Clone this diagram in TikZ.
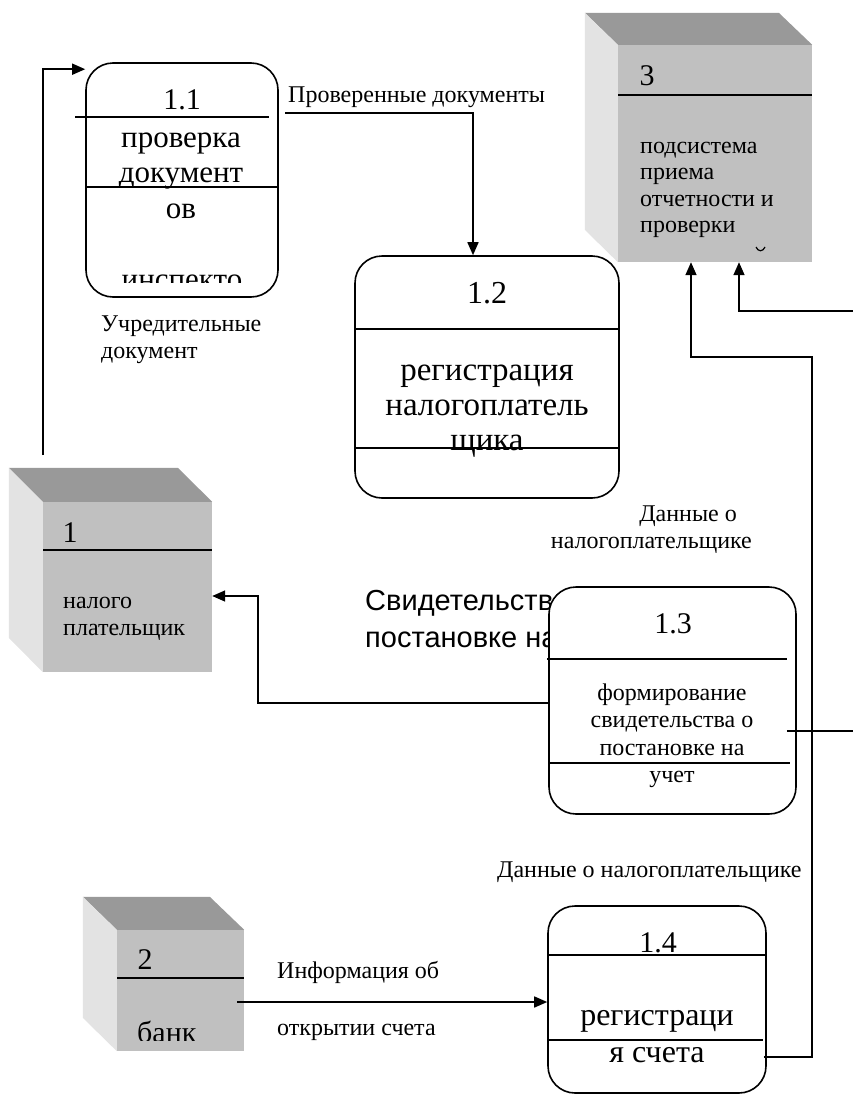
\documentclass[tikz,border=0pt]{standalone}
\usepackage{fontspec}
\setmainfont{Liberation Serif}
\newfontfamily\arialfont{Liberation Sans}
\usetikzlibrary{arrows.meta}
\definecolor{frontgray}{HTML}{C0C0C0}
\definecolor{topgray}{HTML}{999999}
\definecolor{sidegray}{HTML}{E3E3E3}

\begin{document}
\begin{tikzpicture}[x=1pt, y=-1pt]
	\tikzset{proc/.style = {draw, line width=1.6pt, rounded corners=27pt, fill=white, inner sep=0pt}}
	\tikzset{front/.style = {fill=frontgray, inner sep=0pt}}
	\tikzset{edge/.style = {line width=1.6pt, -{Triangle[length=13pt, width=11pt]}}}
	\tikzset{flow/.style = {line width=1.6pt}}
	\tikzset{num/.style = {font=\fontsize{30}{34}\selectfont, inner sep=0pt, anchor=base}}
	\tikzset{big/.style = {font=\fontsize{31}{35.5}\selectfont, inner sep=0pt, align=center, anchor=base}}
	\tikzset{lbl/.style = {font=\fontsize{24}{27}\selectfont, inner sep=0pt, align=left, anchor=base west}}
	\useasboundingbox (0,0) rectangle (853,1095);

	% entity 3
	\node[front, minimum width=194, minimum height=217] (ent3) at (715,153.5) {};
	\fill[topgray] (ent3.north west) -- ++(-33,-32) -- ++(194,0) -- (ent3.north east) -- cycle;
	\fill[sidegray] (ent3.north west) -- ++(-33,-32) -- ++(0,217) -- (ent3.south west) -- cycle;
	\draw[flow] (618,95) -- (812,95);
	\node[num] (ent3num) at (647,85) {3};
	\node[lbl, font=\fontsize{24}{26.5}\selectfont] (ent3txt) at (640,232.5) {подсистема\\приема\\отчетности и\\проверки};
	\draw[line width=1.2pt] (756,247) .. controls (758,252) and (763,252) .. (765,247);

	% entity 1
	\node[front, minimum width=169, minimum height=170] (ent1) at (127.5,587) {};
	\fill[topgray] (ent1.north west) -- ++(-34,-34) -- ++(169,0) -- (ent1.north east) -- cycle;
	\fill[sidegray] (ent1.north west) -- ++(-34,-34) -- ++(0,170) -- (ent1.south west) -- cycle;
	\draw[flow] (43,550) -- (212,550);
	\node[num] (ent1num) at (70,542) {1};
	\node[lbl] (ent1txt) at (63,635) {налого\\плательщик};

	% entity 2
	\node[front, minimum width=127, minimum height=121] (ent2) at (180.5,990.5) {};
	\fill[topgray] (ent2.north west) -- ++(-34,-33) -- ++(127,0) -- (ent2.north east) -- cycle;
	\fill[sidegray] (ent2.north west) -- ++(-34,-33) -- ++(0,121) -- (ent2.south west) -- cycle;
	\draw[flow] (117,978) -- (244,978);
	\node[num] (ent2num) at (145,969) {2};
	\begin{scope}
		\clip (117,930) rectangle (244,1040);
		\node[num, anchor=base west] (ent2txt) at (137,1042) {банк};
	\end{scope}

	% text under process 1.3
	\node[lbl, font=\arialfont\fontsize{29}{37}\selectfont] (svid) at (365,647) {Свидетельство о\\постановке на учет};

	% process 1.1
	\node[proc, minimum width=192, minimum height=234] (p11) at (182,180) {};
	\draw[flow] (75,117) -- (269,117);
	\draw[flow] (86,187) -- (278,187);
	\node[num] (p11num) at (182,109) {1.1};
	\node[big] (p11txt) at (181,218) {проверка\\документ\\ов};
	\begin{scope}
		\clip (86,63) rectangle (278,282);
		\node[big] (p11cut) at (182,289) {инспекто};
	\end{scope}

	% process 1.2
	\node[proc, minimum width=264, minimum height=242] (p12) at (487,377) {};
	\draw[flow] (355,329) -- (619,329);
	\draw[flow] (355,448) -- (619,448);
	\node[num, font=\fontsize{32}{35}\selectfont] (p12num) at (487,303) {1.2};
	\node[big, font=\fontsize{33}{35}\selectfont] (p12txt) at (487,450) {регистрация\\налогоплатель\\щика};

	% process 1.3
	\node[proc, minimum width=247, minimum height=227] (p13) at (672.5,700.5) {};
	\draw[flow] (547,659) -- (787,659);
	\draw[flow] (549,763) -- (790,763);
	\node[num] (p13num) at (673,633) {1.3};
	\node[big, font=\fontsize{24}{27.5}\selectfont] (p13txt) at (672,782.5) {формирование\\свидетельства о\\постановке на\\учет};

	% process 1.4
	\node[proc, minimum width=218, minimum height=187] (p14) at (657,999.5) {};
	\draw[flow] (548,955) -- (766,955);
	\draw[flow] (547,1040) -- (763,1040);
	\node[num] (p14num) at (658,952) {1.4};
	\node[big, font=\fontsize{32}{37}\selectfont] (p14txt) at (657,1062) {регистраци\\я счета};

	% labels
	\node[lbl] (lbl1) at (288,102) {Проверенные документы};
	\node[lbl] (lbl2) at (101,358) {Учредительные\\документ};
	\node[lbl, align=right, anchor=base east] (lbl3) at (752,548) {Данные о\hspace*{15pt}\\налогоплательщике};
	\node[lbl] (lbl4) at (497,877) {Данные о налогоплательщике};
	\node[lbl, font=\fontsize{24}{57}\selectfont] (lbl5) at (277,1035) {Информация об\\открытии счета};

	% connectors
	\coordinate (c1) at (43,455);
	\coordinate (c2) at (285,113);
	\coordinate (c3) at (258,703);
	\coordinate (c5) at (812,357);
	\coordinate (c6) at (853,311);
	\coordinate (c7) at (853,731);
	\draw[edge] (c1) |- ([yshift=-7pt]p11.north west);
	\draw[edge] (c2) -| ([xshift=-14pt]p12.north);
	\draw[edge] ([yshift=-2.5pt]p13.west) -- (c3) |- ([yshift=-9pt]ent1.east);
	\draw[edge] ([xshift=-7pt, yshift=-11.5pt]ent2.east) -- ([yshift=-2.5pt]p14.west);
	\draw[edge] ([xshift=-3pt, yshift=-57.5pt]p14.east) -| (c5) -| ([xshift=-24pt]ent3.south);
	\draw[edge] (c6) -| ([xshift=24pt]ent3.south);
	\draw[flow] ([xshift=-10pt, yshift=-30.5pt]p13.east) -- (c7);
\end{tikzpicture}
\end{document}
